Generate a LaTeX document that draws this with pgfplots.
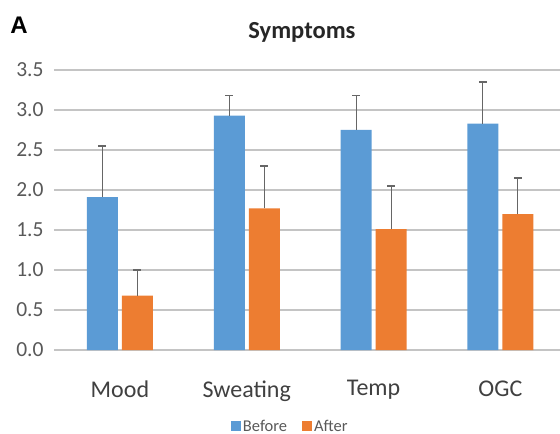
\documentclass[border=0pt]{standalone}
\usepackage{pgfplots}
\pgfplotsset{compat=1.18}
\usepackage{fontspec}
\setmainfont{Carlito}
\newfontfamily\arialfont{Liberation Sans}
\definecolor{cblue}{HTML}{5B9BD5}
\definecolor{corange}{HTML}{ED7D31}
\definecolor{cgrid}{HTML}{C4C4C4}
\definecolor{ctext}{HTML}{595959}
\definecolor{ccat}{HTML}{404040}
\definecolor{cerr}{HTML}{666666}
\begin{document}
\begin{tikzpicture}
\useasboundingbox (-54bp,-84bp) rectangle (506bp,350bp);
\begin{axis}[
  at={(0,0)}, anchor=south west,
  scale only axis, width=506bp, height=280bp,
  xmin=-0.52, xmax=3.47, ymin=0, ymax=3.5,
  ytick={0,0.5,...,3.5},
  yticklabel style={/pgf/number format/fixed, /pgf/number format/fixed zerofill, /pgf/number format/precision=1, /pgf/number format/assume math mode=true,
    font=\fontsize{21.5bp}{22bp}\selectfont, text=ctext, xshift=-7bp},
  xtick={0,1,2,3}, xticklabels={Mood,Sweating,Temp,OGC},
  xticklabel style={font=\fontsize{24bp}{25bp}\selectfont, text=ccat, yshift=-27bp},
  major tick length=0pt,
  axis line style={draw=none},
  ymajorgrids, grid style={cgrid, line width=1.4bp},
  ybar=4bp, bar width=31bp,
  clip=false,
  title={\textbf{Symptoms}},
  title style={font=\fontsize{24.5bp}{25bp}\selectfont, text=black!85, at={(axis description cs:0.49,1)}, anchor=base, yshift=26bp},
  legend style={at={(axis description cs:0.466,-0.272)}, anchor=center, legend columns=2, draw=none, fill=none,
    inner sep=0pt, outer sep=0pt, nodes={inner sep=1bp},
    font=\fontsize{16.5bp}{17bp}\selectfont, text=ctext, /tikz/every even column/.append style={column sep=14bp},
    /tikz/every odd column/.append style={column sep=1bp}},
  legend image code/.code={\fill[#1] (0bp,-5bp) rectangle (10bp,5bp);},
  error bars/y dir=plus, error bars/y explicit,
  error bars/error bar style={cerr, line width=1.1bp},
  error bars/error mark options={cerr, line width=1.1bp, mark size=4bp, rotate=90},
]
\addplot[fill=cblue, draw=none] coordinates {
  (0,1.91) +- (0,0.64)
  (1,2.93) +- (0,0.25)
  (2,2.75) +- (0,0.43)
  (3,2.83) +- (0,0.52)
};
\addplot[fill=corange, draw=none] coordinates {
  (0,0.68) +- (0,0.32)
  (1,1.77) +- (0,0.53)
  (2,1.51) +- (0,0.54)
  (3,1.70) +- (0,0.45)
};
\legend{Before,After}
\node[font=\fontsize{24bp}{25bp}\selectfont\arialfont\bfseries, anchor=center, inner sep=0pt] at (axis description cs:0,1) [xshift=-35bp, yshift=45bp] {A};
\end{axis}
\end{tikzpicture}
\end{document}
